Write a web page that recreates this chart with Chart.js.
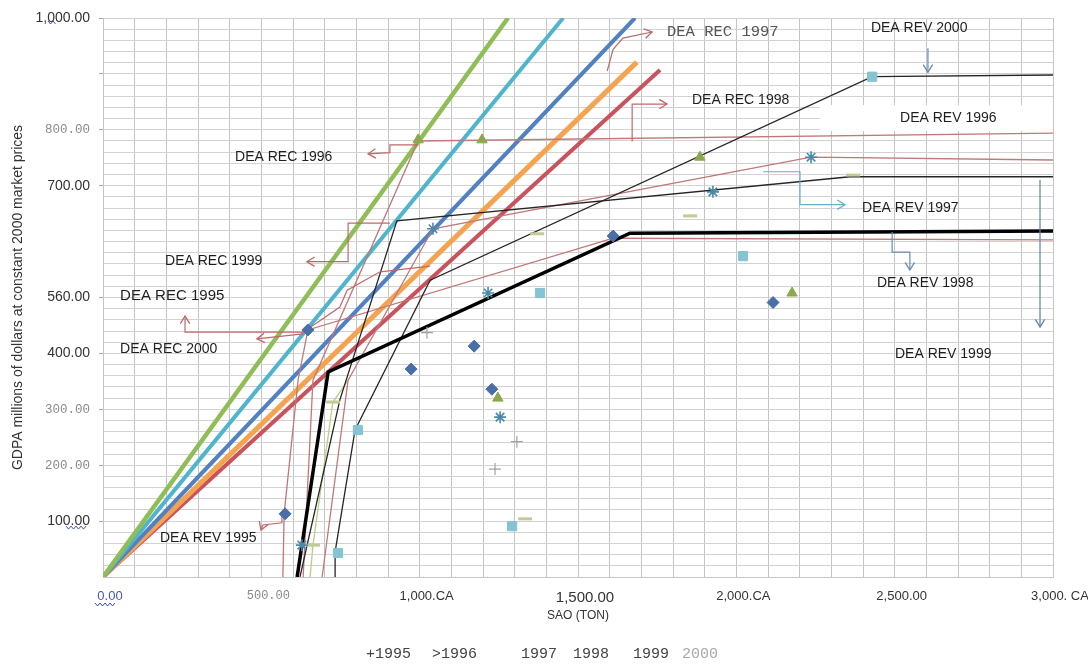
<!DOCTYPE html>
<html>
<head>
<meta charset="utf-8">
<script src="https://cdn.jsdelivr.net/npm/chart.js@4.4.1/dist/chart.umd.min.js"></script>
<style>
  html,body{margin:0;padding:0;background:#fff;}
  #wrap{width:1088px;height:668px;position:relative;}
</style>
</head>
<body>
<div id="wrap"><canvas id="dea"></canvas></div>
<script>
const P = (x, y) => ({x, y});

/* ── TICKS ── */
const xTickValues = [0, 500, 1000, 1500, 2000, 2500, 3000];
const xTickLabels = ['0.00', '500.00', '1,000.CA', '1,500.00', '2,000.CA', '2,500.00', '3,000. CA'];
const yTickValues = [100, 200, 300, 400, 500, 700, 800, 1000];
const yTickLabels = ['100.00', '200.00', '300.00', '400.00', '560.00', '700.00', '800.00', '1,000.00'];

/* ── DEA REC (constant returns, rays from origin) ── */
const rec1 = [P(0,0), P(1279,1000)];
const rec2 = [P(0,0), P(1453,1000)];
const rec3 = [P(0,0), P(1680,1000)];
const rec4 = [P(0,0), P(1686,921)];
const rec5 = [P(0,0), P(1759,907)];

/* ── DEA REV (variable returns frontiers) ── */
const revThick = [P(613,0), P(711,367), P(1664,615), P(3000,619)];
const revA = [P(622,0), P(748,317), P(928,637), P(2359,716), P(3000,716)];
const revB = [P(733,0), P(733,45), P(796,263), P(1033,531), P(2429,895), P(3000,898)];
const revD = [P(568,0), P(572,113), P(616,352), P(647,442), P(1611,606), P(3000,603)];
const revE = [P(692,0), P(774,352), P(1042,623), P(2236,751), P(3000,746)];
const revF = [P(632,0), P(663,352), P(995,780), P(3000,794)];
const revG = [P(654,0), P(663,57), P(726,313), P(774,352)];

/* ── OBSERVATIONS ── */
const obsDiamond = [P(575,113), P(647,442), P(973,372), P(1172,413), P(1228,336), P(1611,610), P(2116,491)];
const obsTriangle = [P(995,782), P(1197,782), P(1885,751), P(2176,508), P(1247,320)];
const obsSquare = [P(742,43), P(805,263), P(1292,91), P(1380,508), P(2021,574), P(2429,895)];
const obsStar = [P(628,57), P(1042,623), P(1216,508), P(1254,286), P(1926,689), P(2236,751)];
const obsDash = [P(663,57), P(726,313), P(1333,104), P(1371,614), P(1854,646), P(2369,719)];
const obsPlus = [P(1023,437), P(1238,193), P(1307,242)];

/* ── ANNOTATION ARROWS ── */
const arrRec1997 = [P(1592,905), P(1611,944), P(1642,964), P(1734,975)];
const arrRec1998 = [P(1671,779), P(1671,846), P(1781,846)];
const arrRec1996 = [P(995,773), P(906,773), P(906,759), P(837,757)];
const arrRec1999 = [P(906,633), P(774,633), P(774,564), P(644,564)];
const arrRec1995 = [P(1033,556), P(875,546), P(771,513), P(748,483), P(632,438), P(259,438), P(259,467)];
const arrRec2000 = [P(632,435), P(486,426)];
const arrRev1995 = [P(565,111), P(565,97), P(505,93), P(499,84)];
const arrRev1997 = [P(2084,725), P(2201,725), P(2201,666), P(2343,666)];
const arrRev1998 = [P(2492,617), P(2492,581), P(2548,581), P(2548,549)];
const arrRev1999 = [P(2959,710), P(2959,447)];
const arrRev2000 = [P(2605,946), P(2605,903)];

/* ── LABELS ── */
const noteText = ['DEA REC 1997', 'DEA REV 2000', 'DEA REC 1998', 'DEA REV 1996', 'DEA REC 1996', 'DEA REV 1997',
                  'DEA REC 1999', 'DEA REV 1998', 'DEA REC 1995', 'DEA REC 2000', 'DEA REV 1999', 'DEA REV 1995'];
const noteX = [1781, 2425, 1860, 2517, 417, 2397, 196, 2444, 54, 54, 2501, 180];
const noteY = [975, 982, 853, 821, 751, 660, 565, 526, 503, 408, 399, 70];

const legendWords = ['+1995', '>1996', '1997', '1998', '1999', '2000'];

const SANS = "'Liberation Sans', Arial, sans-serif";
const MONO = "'Liberation Mono', 'DejaVu Sans Mono', monospace";
const grayX = [500], grayY = [200, 300, 800];

function line(data, color, width, order){
  return {data, showLine:true, borderColor:color, backgroundColor:color, borderWidth:width,
          pointRadius:0, pointHoverRadius:0, order, tension:0};
}
function arrow(data, color){
  const d = line(data, color, 1.2, 0);
  d.arrow = true;
  return d;
}
function marks(data, style, color, r, bw){
  return {data, showLine:false, pointStyle:style, pointRadius:r, pointHoverRadius:r,
          backgroundColor:color, borderColor:color, borderWidth:bw||1, order:-1};
}

const pink = '#c07878', black = '#262626';

const datasets = [
  line(rec1, '#8fbd57', 4.5, 5),
  line(rec2, '#4fb4cc', 4, 5),
  line(rec3, '#5181c0', 4, 5),
  line(rec4, '#f4a451', 5, 5),
  line(rec5, '#c9535d', 4, 5),
  line(revD, pink, 1.3, 3),
  line(revE, pink, 1.3, 3),
  line(revF, pink, 1.3, 3),
  line(revG, '#b9cf88', 1.3, 3),
  line(revA, black, 1.3, 2),
  line(revB, black, 1.3, 2),
  line(revThick, '#000', 3.5, 1),
  marks(obsDiamond, 'rectRot', '#4a6ea8', 6),
  marks(obsTriangle, 'triangle', '#8da84c', 6),
  marks(obsSquare, 'rect', '#86c3d3', 6.5),
  marks(obsStar, 'star', '#4a8aa8', 6, 1.6),
  marks(obsDash, 'line', '#c2ca98', 7, 3),
  marks(obsPlus, 'cross', '#a2a2a2', 6, 1.2),
  arrow(arrRec1997, '#b56a6a'),
  arrow(arrRec1998, '#c06868'),
  arrow(arrRec1996, '#c06868'),
  arrow(arrRec1999, '#c06868'),
  arrow(arrRec1995, '#c06868'),
  arrow(arrRec2000, '#c06868'),
  arrow(arrRev1995, '#c06868'),
  arrow(arrRev1997, '#6aaec4'),
  arrow(arrRev1998, '#6a8cb0'),
  arrow(arrRev1999, '#5e82aa'),
  arrow(arrRev2000, '#5f8ab2')
];

// small blue wavy underline, like the scanned spell-check marks
function squiggle(ctx, x0, x1, yy){
  ctx.beginPath();
  for(let px = x0, k = 0; px <= x1; px += 2.5, k++) ctx[k ? 'lineTo' : 'moveTo'](px, yy + (k % 2 ? 2 : -1));
  ctx.strokeStyle = '#3b4fc0'; ctx.lineWidth = 1; ctx.stroke();
}

/* ── ARROWHEADS, NOTES, LEGEND ── */
const notesPlugin = {
  id:'notes',
  afterDatasetsDraw(chart){
    const {ctx, scales:{x, y}} = chart;
    ctx.save();
    chart.data.datasets.forEach((ds, i)=>{
      if(!ds.arrow) return;
      const pts = chart.getDatasetMeta(i).data;
      const a = pts[pts.length-2], b = pts[pts.length-1];
      const ang = Math.atan2(b.y-a.y, b.x-a.x);
      ctx.strokeStyle = ds.borderColor; ctx.lineWidth = 1.3;
      ctx.beginPath();
      ctx.moveTo(b.x-9*Math.cos(ang-0.55), b.y-9*Math.sin(ang-0.55));
      ctx.lineTo(b.x, b.y);
      ctx.lineTo(b.x-9*Math.cos(ang+0.55), b.y-9*Math.sin(ang+0.55));
      ctx.stroke();
    });
    ctx.textBaseline = 'middle'; ctx.textAlign = 'left';
    noteText.forEach((t, i)=>{
      ctx.font = i===0 ? '15.5px ' + MONO : (i===8 ? '15px ' : '14px ') + SANS;
      const px = x.getPixelForValue(noteX[i]), py = y.getPixelForValue(noteY[i]);
      if(i===3){  // white patch under this label in the scan
        ctx.fillStyle = '#fff';
        ctx.fillRect(px-80, py-13, chart.chartArea.right-px+80, 26);
      }
      ctx.fillStyle = i===0 ? '#555' : '#1e1e1e';
      ctx.fillText(t, px, py);
    });
    ctx.restore();
  },
  afterDraw(chart){
    const {ctx, scales:{x, y}} = chart;
    ctx.save();
    squiggle(ctx, x.getPixelForValue(0)-8, x.getPixelForValue(0)+14, 604);
    squiggle(ctx, 66, 88, y.getPixelForValue(100)+6);
    squiggle(ctx, 48, 56, y.getPixelForValue(1000)+4);
    const lx = [366, 432, 521, 573, 633, 682];
    ctx.font = '15px ' + MONO; ctx.textBaseline = 'middle';
    legendWords.forEach((w, i)=>{
      ctx.fillStyle = i===5 ? '#a8a8a8' : '#444';
      ctx.fillText(w, lx[i], 654);
    });
    ctx.restore();
  }
};

const tickOf = c => c && c.tick ? c.tick.value : null;

new Chart(document.getElementById('dea'), {
  type:'scatter',
  data:{datasets},
  options:{
    responsive:true, maintainAspectRatio:false, animation:false,
    layout:{padding:{top:18, right:35, left:0, bottom:0}},
    plugins:{legend:{display:false}, tooltip:{enabled:false}},
    scales:{
      x:{
        type:'linear', min:0, max:3000,
        afterFit: s => { s.height = 91; s.paddingLeft = 0; s.paddingRight = 0; },
        grid:{color:'#c4c4c4', drawTicks:false},
        border:{color:'#c4c4c4'},
        ticks:{
          stepSize:100, autoSkip:false, maxRotation:0, padding:12, labelOffset:7,
          callback: v => { const k = xTickValues.indexOf(v); return k<0 ? '' : xTickLabels[k]; },
          font: c => grayX.includes(tickOf(c)) ? {family:MONO, size:12} :
                     tickOf(c)===1500 ? {family:SANS, size:15} : {family:SANS, size:13},
          color: c => tickOf(c)===0 ? '#4a58a8' : grayX.includes(tickOf(c)) ? '#8a8a8a' : '#333'
        },
        title:{display:true, text:'SAO (TON)', color:'#333', font:{family:SANS, size:12}, padding:{top:0, bottom:45}}
      },
      y:{
        type:'linear', min:0, max:1000,
        afterFit: s => { s.width = 103; },
        grid:{color:'#d2d2d2', tickLength:4,
              tickColor: c => yTickValues.includes(tickOf(c)) || tickOf(c)===900 ? '#aaa' : 'rgba(0,0,0,0)'},
        border:{color:'#c4c4c4'},
        ticks:{
          stepSize:20, autoSkip:false, padding:9,
          callback: v => { const k = yTickValues.indexOf(v); return k<0 ? '' : yTickLabels[k]; },
          font: c => grayY.includes(tickOf(c)) ? {family:MONO, size:12.5} : {family:SANS, size:14},
          color: c => grayY.includes(tickOf(c)) ? '#8a8a8a' : '#333'
        },
        title:{display:true, text:'GDPA millions of dollars at constant 2000 market prices', color:'#333',
               font:{family:SANS, size:14}, padding:{top:10, bottom:0}}
      }
    }
  },
  plugins:[notesPlugin]
});
</script>
</body>
</html>
